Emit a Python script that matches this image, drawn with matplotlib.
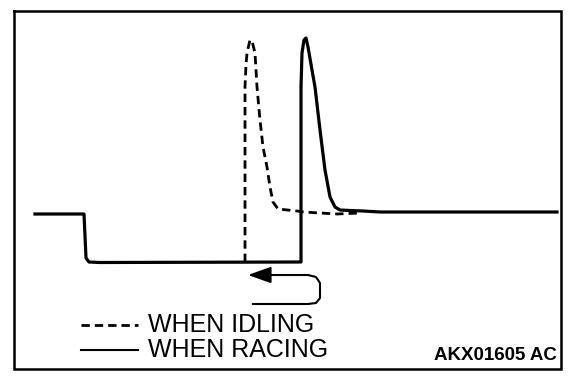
import matplotlib.pyplot as plt

# Waveform (x: time, y: screen position, y grows downward)
racing_x = [35, 84, 86, 89, 100, 301, 301, 302, 304, 306, 308, 312, 315, 320, 325, 330,
            335, 340, 350, 363, 380, 557]
racing_y = [214, 214, 258, 262, 262.5, 262, 87, 53, 40, 38, 47, 70, 87, 130, 170, 197,
            207, 210, 210.5, 211, 212, 212]

idling_x = [245, 245, 246, 247, 250, 252, 255, 257, 260, 263, 267, 270, 273, 278, 297,
            303, 320, 337, 360]
idling_y = [262, 87, 65, 53, 40, 41, 53, 87, 120, 147, 167, 187, 202, 209, 211, 212,
            213, 214, 213]

# Return arrow path
arrow_x = [268, 308, 316, 320, 320, 316, 308, 253]
arrow_y = [275, 275, 277, 283, 298, 303, 304, 304]

legend_labels = ['WHEN IDLING', 'WHEN RACING']
figure_code = 'AKX01605 AC'

fig = plt.figure(figsize=(5.76, 3.84), dpi=100)
ax = fig.add_axes([0, 0, 1, 1])
ax.set_xlim(0, 576)
ax.set_ylim(384, 0)
ax.axis('off')

# frame
ax.plot([14, 561, 561, 14, 14], [11, 11, 369, 369, 11], color='black', lw=1.8,
        solid_joinstyle='miter')

ax.plot(racing_x, racing_y, color='black', lw=2.3, solid_joinstyle='round')
ax.plot(idling_x, idling_y, color='black', lw=2.0, linestyle=(0, (3, 1.8)))

ax.plot(arrow_x, arrow_y, color='black', lw=1.5)
ax.annotate('', xy=(248, arrow_y[0]), xytext=(arrow_x[0] + 2, arrow_y[0]),
            arrowprops=dict(arrowstyle='-|>,head_length=1.4,head_width=0.5',
                            color='black', lw=1.5, shrinkA=0, shrinkB=0))

# legend
ax.plot([81, 138], [325, 325], color='black', lw=2.0, linestyle=(0, (3, 1.8)))
ax.plot([81, 138], [350, 350], color='black', lw=1.5)
ax.text(148, 325, legend_labels[0], fontsize=18, family='Liberation Sans',
        va='center', ha='left')
ax.text(148, 350, legend_labels[1], fontsize=18, family='Liberation Sans',
        va='center', ha='left')

ax.text(557, 355, figure_code, fontsize=13.5, family='Liberation Sans',
        fontweight='bold', va='center', ha='right')

fig.savefig('out.png', dpi=100)
